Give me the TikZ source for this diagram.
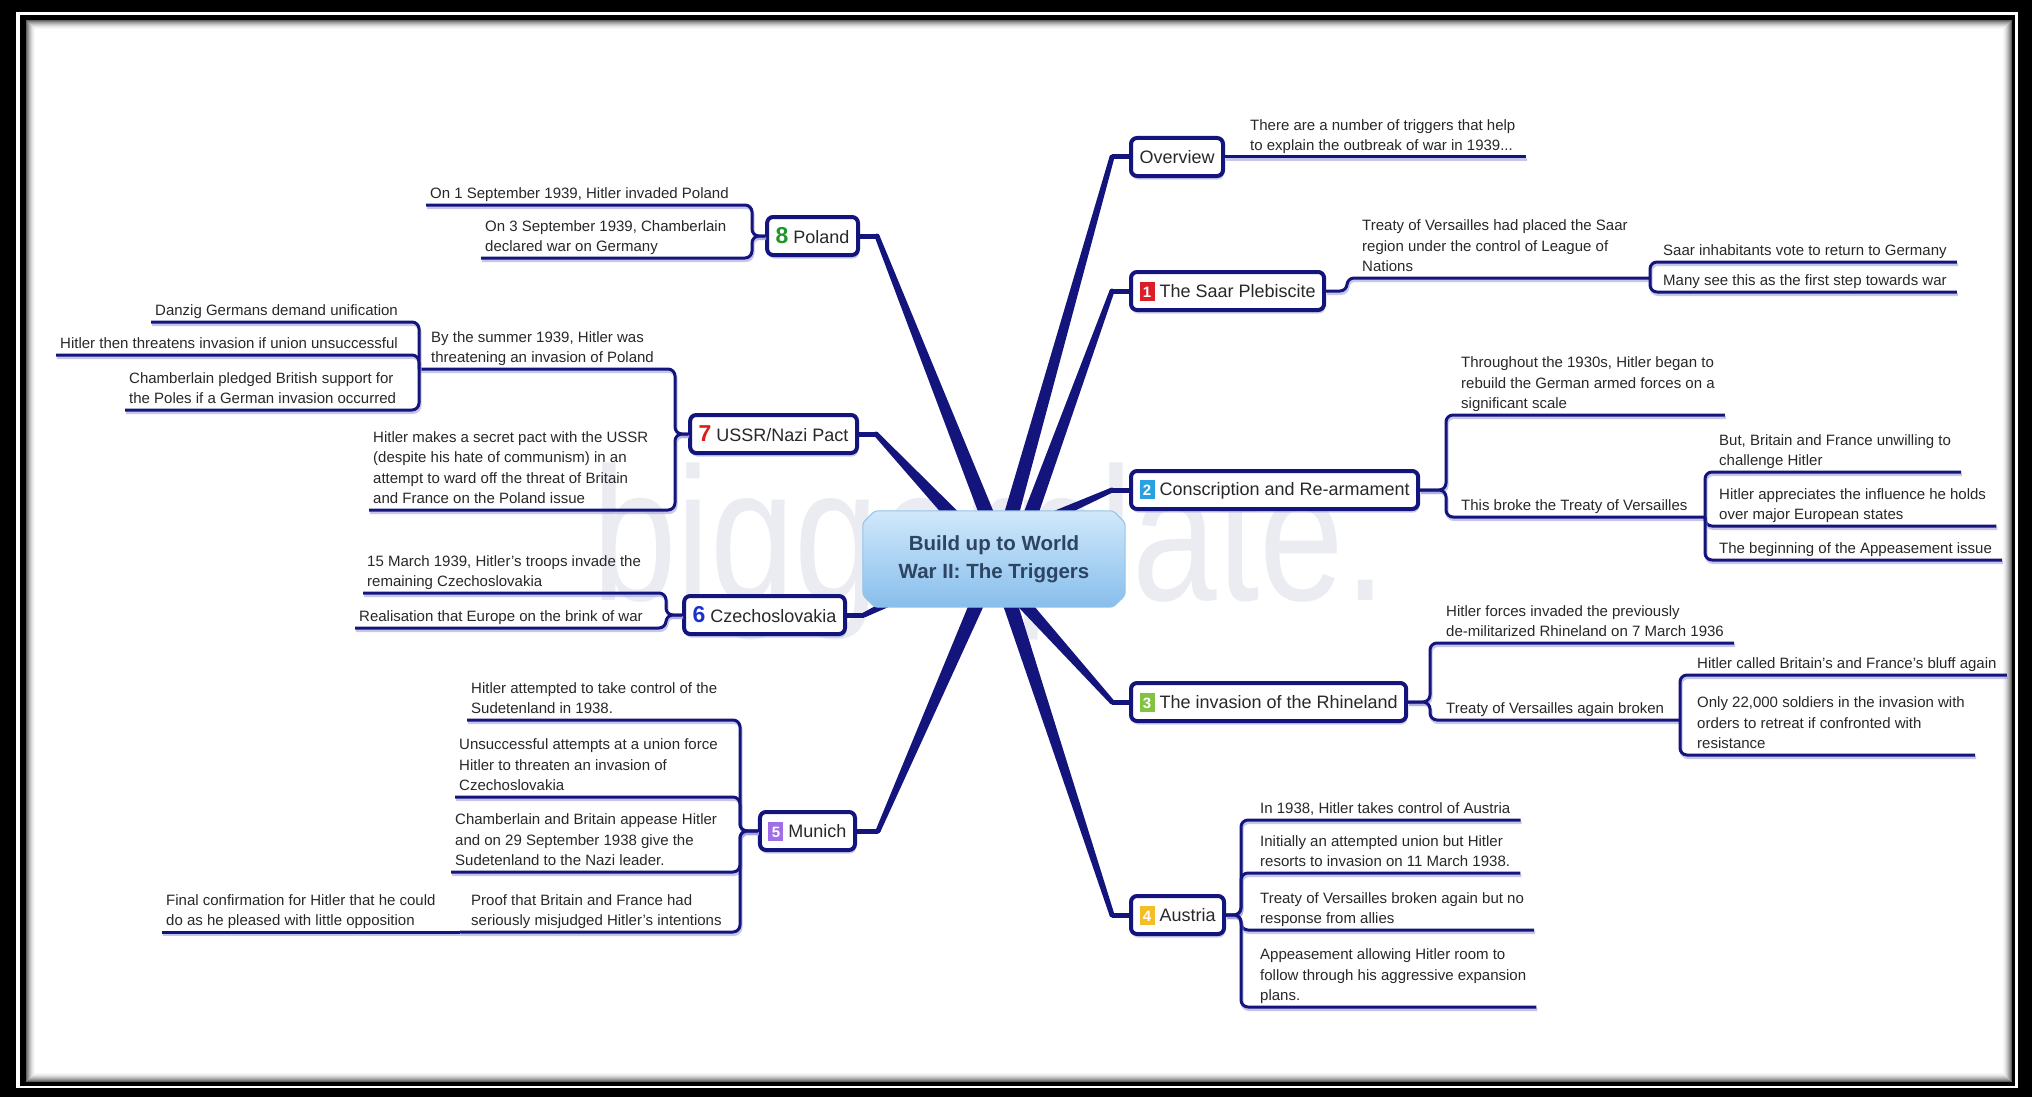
\documentclass[tikz,border=0pt]{standalone}
\usepackage{fontspec}
\setmainfont{Liberation Sans}
\usetikzlibrary{calc,shadows}

\definecolor{mmnavy}{RGB}{20,20,125}
\definecolor{mmshade}{RGB}{160,160,222}
\definecolor{mmtext}{RGB}{40,40,40}
\definecolor{hubtop}{RGB}{208,232,251}
\definecolor{hubbot}{RGB}{135,190,236}
\definecolor{hubedge}{RGB}{150,195,232}
\definecolor{hubink}{RGB}{45,68,98}
\definecolor{wmgray}{RGB}{235,236,242}
\definecolor{icone}{RGB}{220,30,40}
\definecolor{icontwo}{RGB}{40,160,225}
\definecolor{iconthree}{RGB}{130,195,65}
\definecolor{iconfour}{RGB}{245,190,40}
\definecolor{iconfive}{RGB}{160,110,230}
\definecolor{digeight}{RGB}{30,150,40}
\definecolor{digseven}{RGB}{225,25,25}
\definecolor{digsix}{RGB}{25,50,205}

% coloured square with a white number
\newcommand\mmicon[2]{{\setlength{\fboxsep}{0pt}\colorbox{#1}{\makebox[15pt]{\rule[-3.5pt]{0pt}{19pt}\textcolor{white}{\bfseries\fontsize{15}{15}\selectfont #2}}}}}
% large coloured bold number
\newcommand\mmdigit[2]{{\color{#1}\bfseries\fontsize{23}{23}\selectfont #2}}
% tapered main branch: start, bend, half width at start, half width at bend
\newcommand\mmbranch[4]{%
  \fill[mmnavy] ($(#1)!#3!90:(#2)$) -- ($(#2)!#4!-90:(#1)$) -- ($(#2)!#4!90:(#1)$) -- ($(#1)!#3!-90:(#2)$) -- cycle;
  \fill[mmnavy] (#2) circle[radius=#4];}

\begin{document}
\begin{tikzpicture}[x=1pt,y=-1pt,line join=round,
  topic/.style={draw=mmnavy, line width=4pt, fill=white, rounded corners=6pt, text=mmtext,
    font=\fontsize{18}{21}\selectfont, inner xsep=8.5pt, inner ysep=3pt, minimum height=38pt,
    drop shadow={shadow xshift=1pt, shadow yshift=-3.5pt, fill=mmshade, opacity=.55}},
  sub/.style={text=mmtext, font=\fontsize{15}{20.5}\selectfont, align=left, inner sep=0pt,
    execute at begin node=\strut, execute at end node=\strut},
  link/.style={draw=mmnavy, line width=3pt, rounded corners=7pt,
    preaction={draw=mmshade, line width=3pt, opacity=.6, transform canvas={shift={(1pt,-2.5pt)}}}},
  stub/.style={draw=mmnavy, line width=5pt}]

\useasboundingbox (0,0) rectangle (2035,1097);

% ---- double black frame with inner shadow ----
\fill[black] (0,0) rectangle (2032,1097);
\fill[white] (15.5,12) rectangle (2018,1088);
\fill[black] (20,15) rectangle (2015,1086);
\fill[white] (26,20) rectangle (2012,1082);
\foreach \i/\g in {0/62,1/50,2/40,3/31,4/23,5/16,6/10,7/6,8/3}
  {\draw[black!\g, line width=1.1pt] (26.5+\i,20.5+\i) rectangle (2011.5-\i,1081.5-\i);}

% ---- watermark ----
\begin{scope}[shift={(592,600)}, xscale=0.8]
  \node[transform shape, anchor=base west, inner sep=0pt, text=wmgray,
        font=\fontsize{190}{150}\selectfont] (wm) at (0,0) {biggerplate.};
\end{scope}

% ---- branch start and bend points ----
\coordinate (ovA) at (1007,530);  \coordinate (ovB) at (1112,157);
\coordinate (saA) at (1025,530);  \coordinate (saB) at (1112,291);
\coordinate (coA) at (1040,522);  \coordinate (coB) at (1112,490);
\coordinate (rhA) at (1007,585);  \coordinate (rhB) at (1112,702);
\coordinate (auA) at (1004,585);  \coordinate (auB) at (1112,915);
\coordinate (poA) at (993,530);   \coordinate (poB) at (877,236);
\coordinate (usA) at (966,530);   \coordinate (usB) at (876,434);
\coordinate (czA) at (915,590);   \coordinate (czB) at (864,615);
\coordinate (muA) at (985,585);   \coordinate (muB) at (878,831);

\mmbranch{ovA}{ovB}{7.5pt}{2.5pt}
\mmbranch{saA}{saB}{7.5pt}{2.5pt}
\mmbranch{coA}{coB}{5pt}{2.5pt}
\mmbranch{rhA}{rhB}{7pt}{2.5pt}
\mmbranch{auA}{auB}{7.5pt}{2.5pt}
\mmbranch{poA}{poB}{7.5pt}{2.5pt}
\mmbranch{usA}{usB}{7.5pt}{2.5pt}
\mmbranch{czA}{czB}{5pt}{2.5pt}
\mmbranch{muA}{muB}{7.5pt}{2.5pt}

% ---- central topic ----
\node[minimum width=262pt, minimum height=96pt, inner sep=0pt] (hub) at (994,559) {};
\shade[top color=hubtop, bottom color=hubbot, draw=hubedge, line width=1pt, rounded corners=3pt]
  ([xshift=12pt]hub.north west) -- ([xshift=-12pt]hub.north east) -- ([yshift=-12pt]hub.north east)
  -- ([yshift=12pt]hub.south east) -- ([xshift=-12pt]hub.south east) -- ([xshift=12pt]hub.south west)
  -- ([yshift=12pt]hub.south west) -- ([yshift=-12pt]hub.north west) -- cycle;
\node[font=\bfseries\fontsize{20.5}{28}\selectfont, text=hubink, align=center] (hubtitle) at (hub.center)
  {Build up to World\\War II: The Triggers};

% ---- main topics ----
\node[topic, anchor=west] (overview) at (1129,157) {Overview};
\node[topic, anchor=west] (saar)     at (1129,291) {\mmicon{icone}{1} The Saar Plebiscite};
\node[topic, anchor=west] (conscr)   at (1129,490) {\mmicon{icontwo}{2} Conscription and Re-armament};
\node[topic, anchor=west] (rhine)    at (1129,702) {\mmicon{iconthree}{3} The invasion of the Rhineland};
\node[topic, anchor=west] (austria)  at (1129,915) {\mmicon{iconfour}{4} Austria};
\node[topic, anchor=east] (poland)   at (860,236)  {\mmdigit{digeight}{8} Poland};
\node[topic, anchor=east] (ussr)     at (859,434)  {\mmdigit{digseven}{7} USSR/Nazi Pact};
\node[topic, anchor=east] (czech)    at (847,615)  {\mmdigit{digsix}{6} Czechoslovakia};
\node[topic, anchor=east] (munich)   at (857,831)  {\mmicon{iconfive}{5} Munich};

\draw[stub] (ovB) -- (overview.west);
\draw[stub] (saB) -- (saar.west);
\draw[stub] (coB) -- (conscr.west);
\draw[stub] (rhB) -- (rhine.west);
\draw[stub] (auB) -- (austria.west);
\draw[stub] (poB) -- (poland.east);
\draw[stub] (usB) -- (ussr.east);
\draw[stub] (czB) -- (czech.east);
\draw[stub] (muB) -- (munich.east);

% ---- spine and junction points ----
\coordinate (saS) at (1347,291);  \coordinate (saJ) at (1650,278);
\coordinate (coS) at (1446,490);  \coordinate (coJ) at (1705,517);
\coordinate (rhS) at (1430,702);  \coordinate (rhJ) at (1680,720);
\coordinate (auS) at (1241,915);
\coordinate (poS) at (752,236);
\coordinate (usS) at (675,434);   \coordinate (usJ) at (419,369);
\coordinate (czS) at (666,615);
\coordinate (muS) at (740,831);   \coordinate (muJ) at (460,932);

% ---- Overview ----
\node[sub, anchor=south west] (ov1) at (1250,157) {There are a number of triggers that help\\to explain the outbreak of war in 1939...};
\draw[link] (overview.east) -- ([xshift=10pt]ov1.south east);

% ---- 1 Saar ----
\node[sub, anchor=south west] (sa1) at (1362,278) {Treaty of Versailles had placed the Saar\\region under the control of League of\\Nations};
\node[sub, anchor=south west] (sa1a) at (1663,262) {Saar inhabitants vote to return to Germany};
\node[sub, anchor=south west] (sa1b) at (1663,292) {Many see this as the first step towards war};
\draw[link] (saar.east) -- (saS) |- (saJ);
\draw[link] (saJ) |- ([xshift=10pt]sa1a.south east);
\draw[link] (saJ) |- ([xshift=10pt]sa1b.south east);

% ---- 2 Conscription ----
\node[sub, anchor=south west] (co1) at (1461,415) {Throughout the 1930s, Hitler began to\\rebuild the German armed forces on a\\significant scale};
\node[sub, anchor=south west] (co2) at (1461,517) {This broke the Treaty of Versailles};
\node[sub, anchor=south west] (co2a) at (1719,472) {But, Britain and France unwilling to\\challenge Hitler};
\node[sub, anchor=south west] (co2b) at (1719,526) {Hitler appreciates the influence he holds\\over major European states};
\node[sub, anchor=south west] (co2c) at (1719,560) {The beginning of the Appeasement issue};
\draw[link] (conscr.east) -- (coS) |- ([xshift=10pt]co1.south east);
\draw[link] (conscr.east) -- (coS) |- (coJ);
\draw[link] (coJ) |- ([xshift=10pt]co2a.south east);
\draw[link] (coJ) |- ([xshift=10pt]co2b.south east);
\draw[link] (coJ) |- ([xshift=10pt]co2c.south east);

% ---- 3 Rhineland ----
\node[sub, anchor=south west] (rh1) at (1446,643) {Hitler forces invaded the previously\\de-militarized Rhineland on 7 March 1936};
\node[sub, anchor=south west] (rh2) at (1446,720) {Treaty of Versailles again broken};
\node[sub, anchor=south west] (rh2a) at (1697,675) {Hitler called Britain's and France's bluff again};
\node[sub, anchor=south west] (rh2b) at (1697,755) {Only 22,000 soldiers in the invasion with\\orders to retreat if confronted with\\resistance};
\draw[link] (rhine.east) -- (rhS) |- ([xshift=10pt]rh1.south east);
\draw[link] (rhine.east) -- (rhS) |- (rhJ);
\draw[link] (rhJ) |- ([xshift=10pt]rh2a.south east);
\draw[link] (rhJ) |- ([xshift=10pt]rh2b.south east);

% ---- 4 Austria ----
\node[sub, anchor=south west] (au1) at (1260,820) {In 1938, Hitler takes control of Austria};
\node[sub, anchor=south west] (au2) at (1260,873) {Initially an attempted union but Hitler\\resorts to invasion on 11 March 1938.};
\node[sub, anchor=south west] (au3) at (1260,930) {Treaty of Versailles broken again but no\\response from allies};
\node[sub, anchor=south west] (au4) at (1260,1007) {Appeasement allowing Hitler room to\\follow through his aggressive expansion\\plans.};
\draw[link] (austria.east) -- (auS) |- ([xshift=10pt]au1.south east);
\draw[link] (austria.east) -- (auS) |- ([xshift=10pt]au2.south east);
\draw[link] (austria.east) -- (auS) |- ([xshift=10pt]au3.south east);
\draw[link] (austria.east) -- (auS) |- ([xshift=10pt]au4.south east);

% ---- 8 Poland ----
\node[sub, anchor=south west] (po1) at (430,205) {On 1 September 1939, Hitler invaded Poland};
\node[sub, anchor=south west] (po2) at (485,258) {On 3 September 1939, Chamberlain\\declared war on Germany};
\draw[link] (poland.west) -- (poS) |- ([xshift=-4pt]po1.south west);
\draw[link] (poland.west) -- (poS) |- ([xshift=-4pt]po2.south west);

% ---- 7 USSR/Nazi Pact ----
\node[sub, anchor=south west] (us1) at (431,369) {By the summer 1939, Hitler was\\threatening an invasion of Poland};
\node[sub, anchor=south west] (us2) at (373,510) {Hitler makes a secret pact with the USSR\\(despite his hate of communism) in an\\attempt to ward off the threat of Britain\\and France on the Poland issue};
\node[sub, anchor=south west] (us1a) at (155,322) {Danzig Germans demand unification};
\node[sub, anchor=south west] (us1b) at (60,355) {Hitler then threatens invasion if union unsuccessful};
\node[sub, anchor=south west] (us1c) at (129,410) {Chamberlain pledged British support for\\the Poles if a German invasion occurred};
\draw[link] (ussr.west) -- (usS) |- (usJ);
\draw[link] (ussr.west) -- (usS) |- ([xshift=-4pt]us2.south west);
\draw[link] (usJ) |- ([xshift=-4pt]us1a.south west);
\draw[link] (usJ) |- ([xshift=-4pt]us1b.south west);
\draw[link] (usJ) |- ([xshift=-4pt]us1c.south west);

% ---- 6 Czechoslovakia ----
\node[sub, anchor=south west] (cz1) at (367,593) {15 March 1939, Hitler's troops invade the\\remaining Czechoslovakia};
\node[sub, anchor=south west] (cz2) at (359,628) {Realisation that Europe on the brink of war};
\draw[link] (czech.west) -- (czS) |- ([xshift=-4pt]cz1.south west);
\draw[link] (czech.west) -- (czS) |- ([xshift=-4pt]cz2.south west);

% ---- 5 Munich ----
\node[sub, anchor=south west] (mu1) at (471,720) {Hitler attempted to take control of the\\Sudetenland in 1938.};
\node[sub, anchor=south west] (mu2) at (459,797) {Unsuccessful attempts at a union force\\Hitler to threaten an invasion of\\Czechoslovakia};
\node[sub, anchor=south west] (mu3) at (455,872) {Chamberlain and Britain appease Hitler\\and on 29 September 1938 give the\\Sudetenland to the Nazi leader.};
\node[sub, anchor=south west] (mu4) at (471,932) {Proof that Britain and France had\\seriously misjudged Hitler's intentions};
\node[sub, anchor=south west] (mu4a) at (166,932) {Final confirmation for Hitler that he could\\do as he pleased with little opposition};
\draw[link] (munich.west) -- (muS) |- ([xshift=-4pt]mu1.south west);
\draw[link] (munich.west) -- (muS) |- ([xshift=-4pt]mu2.south west);
\draw[link] (munich.west) -- (muS) |- ([xshift=-4pt]mu3.south west);
\draw[link] (munich.west) -- (muS) |- (muJ);
\draw[link] (muJ) -- ([xshift=-4pt]mu4a.south west);

\end{tikzpicture}
\end{document}
